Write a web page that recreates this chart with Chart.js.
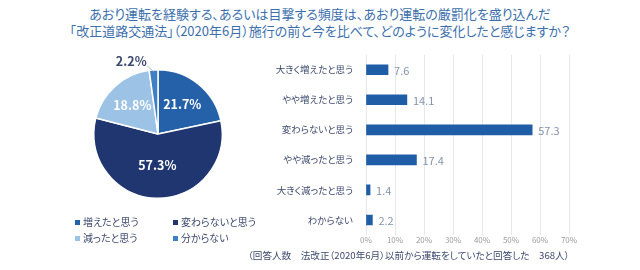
<!DOCTYPE html>
<html lang="ja">
<head>
<meta charset="utf-8">
<script src="https://cdn.jsdelivr.net/npm/chart.js@4"></script>
<style>
    body { margin: 0; width: 640px; height: 270px; background: #fff; font-family: "Noto Sans CJK JP", "Noto Sans", sans-serif; overflow: hidden; position: relative; font-feature-settings: "palt"; }
    .title { position: absolute; top: 5px; left: 0; width: 640px; text-align: center; color: #3b6fae; font-size: 13px; line-height: 17px; }
    #pieWrap { position: absolute; left: 58px; top: 44px; width: 200px; height: 180px; }
    #barWrap { position: absolute; left: 260px; top: 44px; width: 330px; height: 207px; }
    .legend { position: absolute; left: 75px; top: 214px; width: 220px; color: #3d4a6e; font-size: 10px; line-height: 16px; }
    .legend span { display: inline-block; width: 98px; white-space: nowrap; }
    .legend i { display: inline-block; width: 5px; height: 5px; margin-right: 3px; vertical-align: middle; position: relative; top: -1px; }
    .note { position: absolute; left: 248px; top: 248px; color: #3d4a6e; font-size: 9.6px; white-space: nowrap; }
</style>
</head>
<body>
<div class="title">あおり運転を経験する、あるいは目撃する頻度は、あおり運転の厳罰化を盛り込んだ<br>「改正道路交通法」（2020年6月）施行の前と今を比べて、どのように変化したと感じますか？</div>
<div id="pieWrap"><canvas id="pieChart"></canvas></div>
<div id="barWrap"><canvas id="barChart"></canvas></div>
<div class="legend" id="pieLegend"></div>
<div class="note">（回答人数　法改正（2020年6月）以前から運転をしていたと回答した　368人）</div>
<script>
const pieLabels = ['増えたと思う', '変わらないと思う', '減ったと思う', '分からない'];
const pieValues = [21.7, 57.3, 18.8, 2.2];
const pieColors = ['#2461a8', '#1f3670', '#9cc3e5', '#3f7fc6'];

const barLabels = ['大きく増えたと思う', 'やや増えたと思う', '変わらないと思う', 'やや減ったと思う', '大きく減ったと思う', 'わからない'];
const barValues = [7.6, 14.1, 57.3, 17.4, 1.4, 2.2];
const xTicks = [0, 10, 20, 30, 40, 50, 60, 70];

const FONT = '"Noto Sans CJK JP", "Noto Sans", sans-serif';

document.getElementById('pieLegend').innerHTML = pieLabels.map((l, i) =>
    `<span><i style="background:${pieColors[i]}"></i>${l}</span>`
).join('');

// percent labels on the pie, small slice gets an outside label with a leader line
const pieLabelPlugin = {
    id: 'pieLabels',
    afterDatasetsDraw(chart) {
        const ctx = chart.ctx;
        const meta = chart.getDatasetMeta(0);
        ctx.save();
        ctx.font = 'bold 12.5px ' + FONT;
        ctx.textAlign = 'center';
        ctx.textBaseline = 'middle';
        meta.data.forEach((arc, i) => {
            const v = pieValues[i];
            const mid = (arc.startAngle + arc.endAngle) / 2;
            const text = v.toFixed(1) + '%';
            if (v < 5) {
                const r = arc.outerRadius;
                const x1 = arc.x + Math.cos(mid) * (r - 2);
                const y1 = arc.y + Math.sin(mid) * (r - 2);
                const x2 = arc.x + Math.cos(mid) * (r + 4) - 6;
                const y2 = arc.y + Math.sin(mid) * (r + 4);
                ctx.strokeStyle = '#9aa5b5';
                ctx.lineWidth = 0.8;
                ctx.beginPath();
                ctx.moveTo(x1, y1);
                ctx.lineTo(x2, y2);
                ctx.stroke();
                ctx.fillStyle = '#3d4a6e';
                ctx.fillText(text, x2 - 16, y2 - 5);
            } else {
                const rr = i === 1 ? arc.outerRadius * 0.48 : arc.outerRadius * 0.6;
                ctx.fillStyle = '#ffffff';
                ctx.fillText(text, arc.x + Math.cos(mid) * rr, arc.y + Math.sin(mid) * rr);
            }
        });
        ctx.restore();
    }
};

new Chart(document.getElementById('pieChart'), {
    type: 'pie',
    data: {
        labels: pieLabels,
        datasets: [{
            data: pieValues,
            backgroundColor: pieColors,
            borderColor: '#ffffff',
            borderWidth: 1.5
        }]
    },
    options: {
        responsive: true,
        maintainAspectRatio: false,
        animation: false,
        layout: { padding: { top: 25, bottom: 25, left: 35, right: 35 } },
        plugins: { legend: { display: false }, tooltip: { enabled: false } }
    },
    plugins: [pieLabelPlugin]
});

const barValuePlugin = {
    id: 'barValues',
    afterDatasetsDraw(chart) {
        const ctx = chart.ctx;
        const meta = chart.getDatasetMeta(0);
        ctx.save();
        ctx.font = '11px ' + FONT;
        ctx.fillStyle = '#8393ad';
        ctx.textAlign = 'left';
        ctx.textBaseline = 'middle';
        meta.data.forEach((bar, i) => {
            ctx.fillText(barValues[i].toFixed(1), bar.x + 6, bar.y + 1);
        });
        ctx.restore();
    }
};

new Chart(document.getElementById('barChart'), {
    type: 'bar',
    data: {
        labels: barLabels,
        datasets: [{
            data: barValues,
            backgroundColor: '#1f5ea7',
            barThickness: 10
        }]
    },
    options: {
        indexAxis: 'y',
        responsive: true,
        maintainAspectRatio: false,
        animation: false,
        layout: { padding: { top: 0, right: 21, bottom: 4, left: 0 } },
        scales: {
            x: {
                min: 0,
                max: 70,
                afterBuildTicks(axis) { axis.ticks = xTicks.map(v => ({ value: v })); },
                afterFit(axis) { axis.height = 12; },
                grid: { color: '#e8e8e8', drawTicks: false },
                border: { display: false },
                ticks: { padding: 0, color: '#9a9a9a', font: { size: 8, family: FONT }, callback: v => v + '%' }
            },
            y: {
                afterFit(axis) { axis.width = 106; },
                grid: { display: false },
                border: { display: false },
                ticks: { padding: 5, color: '#3d4a6e', font: { size: 9.5, family: FONT } }
            }
        },
        plugins: { legend: { display: false }, tooltip: { enabled: false } }
    },
    plugins: [barValuePlugin]
});
</script>
</body>
</html>
